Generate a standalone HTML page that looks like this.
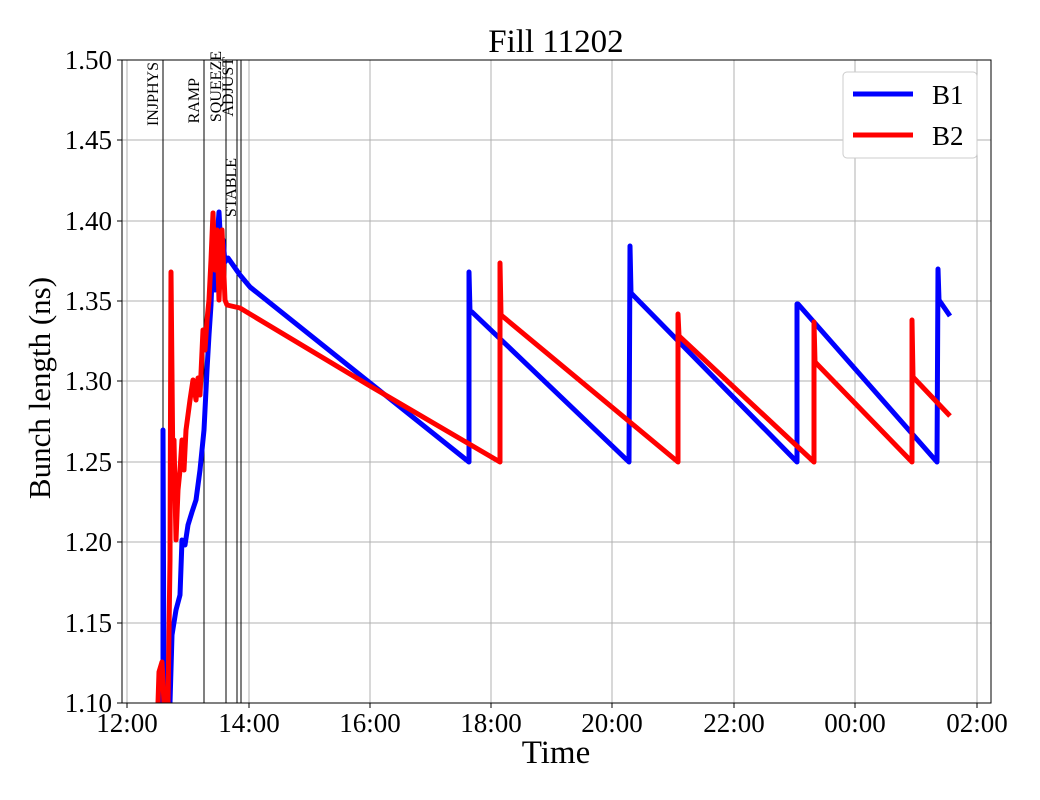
<!DOCTYPE html>
<html><head><meta charset="utf-8"><style>body{margin:0;background:#fff}svg{display:block}</style></head><body>
<svg width="1040" height="800" xmlns="http://www.w3.org/2000/svg" font-family="Liberation Serif, serif">
<rect width="1040" height="800" fill="#fff"/>
<g stroke="#b0b0b0" stroke-width="1">
<line x1="127" y1="60" x2="127" y2="703"/><line x1="249" y1="60" x2="249" y2="703"/><line x1="370" y1="60" x2="370" y2="703"/><line x1="491" y1="60" x2="491" y2="703"/><line x1="612" y1="60" x2="612" y2="703"/><line x1="734" y1="60" x2="734" y2="703"/><line x1="855" y1="60" x2="855" y2="703"/><line x1="977" y1="60" x2="977" y2="703"/>
<line x1="122" y1="140" x2="991" y2="140"/><line x1="122" y1="221" x2="991" y2="221"/><line x1="122" y1="301" x2="991" y2="301"/><line x1="122" y1="381" x2="991" y2="381"/><line x1="122" y1="462" x2="991" y2="462"/><line x1="122" y1="542" x2="991" y2="542"/><line x1="122" y1="623" x2="991" y2="623"/>
</g>
<g stroke="#000" stroke-width="1">
<line x1="163" y1="60" x2="163" y2="703"/><line x1="204" y1="60" x2="204" y2="703"/><line x1="226" y1="60" x2="226" y2="703"/><line x1="237" y1="60" x2="237" y2="703"/><line x1="241" y1="60" x2="241" y2="703"/>
</g>
<g font-size="16" text-anchor="end">
<text transform="translate(158,62) rotate(-90)">INJPHYS</text>
<text transform="translate(199,78) rotate(-90)">RAMP</text>
<text transform="translate(221,51) rotate(-90)">SQUEEZE</text>
<text transform="translate(233,57) rotate(-90)">ADJUST</text>
<text transform="translate(236,158) rotate(-90)">STABLE</text>
</g>
<svg x="122" y="60" width="869" height="643" overflow="hidden"><g transform="translate(-122,-60)" fill="none" stroke-width="5" stroke-linejoin="round">
<polyline stroke="#0000ff" points="163,703 163,430 164,703 170,703 172,635 176,610 180,595 182,540 185,545 188,525 192,512 196,500 200,470 204,430 207,370 209,335 211,305 213,250 215,290 217,240 219,212 221,250 223,240 225,262 228,258 240,275 250,287 469,462 469,272 470,312 472,312 629,462 630,246 631,293 797,462 797,304 798,304 937,462 938,269 939,300 950,316"/>
<polyline stroke="#ff0000" points="158,703 159,672 162,662 164,703 168,703 170,560 171,272 173,480 174,440 176,540 178,490 180,470 182,440 184,470 186,430 190,400 193,380 196,400 198,378 200,395 203,330 205,350 207,320 209,300 211,260 213,213 215,270 217,230 219,300 222,230 225,300 227,305 240,308 370,386 500,462 500,263 501,315 678,462 678,314 679,336 814,462 814,322 815,362 912,462 912,320 913,377 950,416"/>
</g></svg>
<rect x="122" y="60" width="869" height="643" fill="none" stroke="#000" stroke-width="1"/>
<g stroke="#000"><line x1="127" y1="703" x2="127" y2="708"/><line x1="249" y1="703" x2="249" y2="708"/><line x1="370" y1="703" x2="370" y2="708"/><line x1="491" y1="703" x2="491" y2="708"/><line x1="612" y1="703" x2="612" y2="708"/><line x1="734" y1="703" x2="734" y2="708"/><line x1="855" y1="703" x2="855" y2="708"/><line x1="977" y1="703" x2="977" y2="708"/>
<line x1="117" y1="60" x2="122" y2="60"/><line x1="117" y1="140" x2="122" y2="140"/><line x1="117" y1="221" x2="122" y2="221"/><line x1="117" y1="301" x2="122" y2="301"/><line x1="117" y1="381" x2="122" y2="381"/><line x1="117" y1="462" x2="122" y2="462"/><line x1="117" y1="542" x2="122" y2="542"/><line x1="117" y1="623" x2="122" y2="623"/><line x1="117" y1="703" x2="122" y2="703"/></g>
<g font-size="27" text-anchor="middle">
<text x="127" y="732">12:00</text><text x="249" y="732">14:00</text><text x="370" y="732">16:00</text><text x="491" y="732">18:00</text><text x="612" y="732">20:00</text><text x="734" y="732">22:00</text><text x="855" y="732">00:00</text><text x="977" y="732">02:00</text>
</g>
<g font-size="27" text-anchor="end">
<text x="112" y="69">1.50</text><text x="112" y="149">1.45</text><text x="112" y="230">1.40</text><text x="112" y="310">1.35</text><text x="112" y="390">1.30</text><text x="112" y="471">1.25</text><text x="112" y="551">1.20</text><text x="112" y="632">1.15</text><text x="112" y="712">1.10</text>
</g>
<text x="556" y="52" font-size="33" text-anchor="middle">Fill 11202</text>
<text x="556" y="763" font-size="33" text-anchor="middle">Time</text>
<text transform="translate(50,388) rotate(-90)" font-size="31" text-anchor="middle">Bunch length (ns)</text>
<rect x="843" y="72" width="134" height="86" rx="4" fill="#fff" stroke="#ccc"/>
<line x1="853" y1="94" x2="913" y2="94" stroke="#0000ff" stroke-width="5"/>
<line x1="853" y1="135" x2="913" y2="135" stroke="#ff0000" stroke-width="5"/>
<text x="932" y="104" font-size="27">B1</text>
<text x="932" y="145" font-size="27">B2</text>
</svg>
</body></html>
